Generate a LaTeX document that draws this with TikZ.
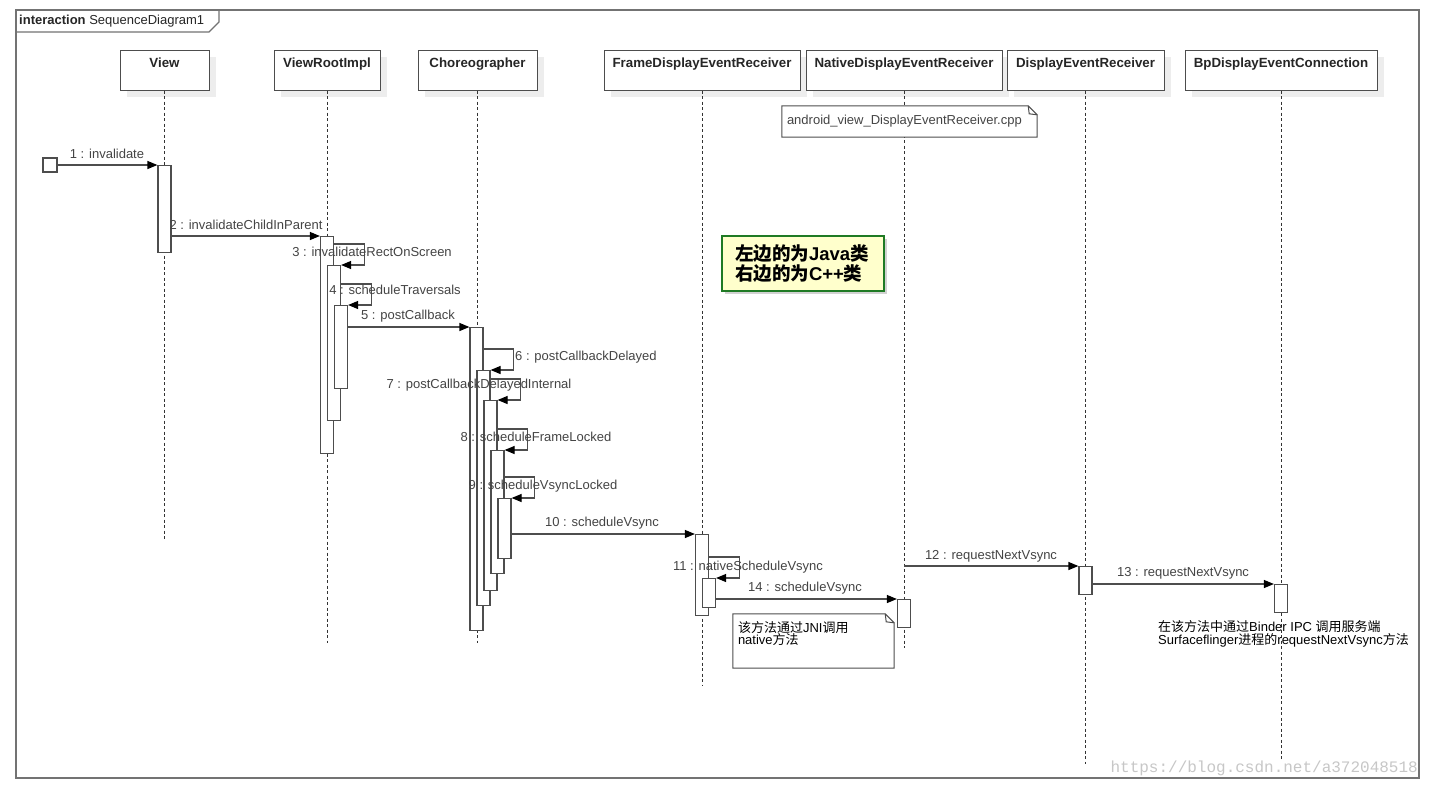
\documentclass[tikz,border=0pt]{standalone}
\usepackage{fontspec}
\setmainfont{Liberation Sans}
\newfontfamily\cjk{Noto Sans CJK SC}
\newfontfamily\wmfont{Liberation Mono}
\usetikzlibrary{arrows.meta,calc,shadows}
\definecolor{lineg}{HTML}{4D4D4D}
\definecolor{txtg}{HTML}{444444}
\definecolor{headtxt}{HTML}{262626}
\definecolor{noteyel}{HTML}{FFFFCC}
\definecolor{notegreen}{HTML}{1F7A24}
\tikzset{
  framel/.style={draw=black!55, line width=1.3pt},
  head/.style={draw=lineg, line width=1pt, fill=white, minimum height=40pt,
    inner xsep=0pt, inner ysep=4pt, text height=13pt, text depth=19pt,
    font=\fontsize{13.3}{15}\selectfont\bfseries, text=headtxt,
    drop shadow={shadow xshift=7pt, shadow yshift=-7pt, fill=black!7, opacity=1}},
  lifeline/.style={draw=black!80, line width=0.9pt, dash pattern=on 3pt off 2.5pt},
  act/.style={draw=lineg, line width=1.2pt, fill=white, minimum width=13pt,
    inner sep=0pt, anchor=north},
  msg/.style={draw=lineg, line width=1.2pt, -{Triangle[length=10pt,width=8pt,color=black]}},
  lbl/.style={font=\fontsize{13}{15}\selectfont, text=txtg, inner sep=0pt},
  blk/.style={font=\fontsize{13}{12.8}\selectfont, text=black, inner sep=0pt},
  notebg/.style={fill=white, draw=none, inner sep=0pt},
  notel/.style={draw=lineg, line width=1pt},
  gbox/.style={draw=notegreen, line width=2pt, fill=noteyel, inner xsep=13pt,
    font=\fontsize{18.5}{19.5}\selectfont\bfseries, text=black,
    drop shadow={shadow xshift=3pt, shadow yshift=-3pt, opacity=0.35}},
}
\newcommand\mkact[5]{\node[act, minimum height={#5-#4}] (#1) at ($(#2.center |- 0,#4)+(#3,0)$) {};}
\newcommand\selfmsg[2]{\draw[msg] ($(#2.north -| #1.east)+(0,-21)$) -- ++(30,0) |- (#2.north east);}
\newcommand\foldnote[1]{%
  \draw[notel] (#1.north west) -- ($(#1.north east)+(-9,0)$) -- ($(#1.north east)+(0,9)$) -- (#1.south east) -- (#1.south west) -- cycle;
  \draw[notel] ($(#1.north east)+(-9,0)$) -- ($(#1.north east)+(-8,8)$) -- ($(#1.north east)+(0,9)$);}
\begin{document}
\begin{tikzpicture}[x=1pt,y=-1pt]
\fill[white] (0,0) rectangle (1431,793);
\useasboundingbox (0,0) rectangle (1431,793);
% frame
\draw[framel] (16,10) rectangle (1419,778);
\draw[framel] (16,10) -- (219,10) -- (219,22) -- (209,32) -- (16,32);
\node[font=\fontsize{13}{15}\selectfont, text=headtxt, anchor=west, inner sep=0pt] (title) at (19,21) {\textbf{interaction} SequenceDiagram1};
% heads
\node[head, minimum width=89pt] (hView) at (164.5,70) {View};
\node[head, minimum width=106pt] (hVRI) at (327,70) {ViewRootImpl};
\node[head, minimum width=119pt] (hCh) at (477.5,70) {Choreographer};
\node[head, minimum width=196pt] (hFr) at (702,70) {FrameDisplayEventReceiver};
\node[head, minimum width=196pt] (hNa) at (904,70) {NativeDisplayEventReceiver};
\node[head, minimum width=157pt] (hDe) at (1085.5,70) {DisplayEventReceiver};
\node[head, minimum width=192pt] (hBp) at (1281,70) {BpDisplayEventConnection};
% lifelines
\coordinate (eView) at (164.5,541);
\coordinate (eVRI) at (327,643);
\coordinate (eCh) at (477.5,643);
\coordinate (eFr) at (702,685);
\coordinate (eNa) at (904,648);
\coordinate (eDe) at (1085.5,764);
\coordinate (eBp) at (1281,759);
\draw[lifeline] (hView) -- (eView);
\draw[lifeline] (hVRI) -- (eVRI);
\draw[lifeline] (hCh) -- (eCh);
\draw[lifeline] (hFr) -- (eFr);
\draw[lifeline] (hNa) -- (eNa);
\draw[lifeline] (hDe) -- (eDe);
\draw[lifeline] (hBp) -- (eBp);
% start
\node[draw=lineg, line width=1.2pt, fill=white, minimum size=14pt, inner sep=0pt] (s0) at (50,165) {};
% activations
\mkact{v1}{hView}{0}{165}{252}
\mkact{r1}{hVRI}{0}{236}{453}
\mkact{r2}{hVRI}{7}{265}{420}
\mkact{r3}{hVRI}{14}{305}{388}
\mkact{c1}{hCh}{-1}{327}{630}
\mkact{c2}{hCh}{6}{370}{605}
\mkact{c3}{hCh}{13}{400}{590}
\mkact{c4}{hCh}{20}{450}{573}
\mkact{c5}{hCh}{27}{498}{558}
\mkact{f1}{hFr}{0}{534}{615}
\mkact{f2}{hFr}{7}{578}{607}
\mkact{n1}{hNa}{0}{599}{627}
\mkact{d1}{hDe}{0}{566}{594}
\mkact{b1}{hBp}{0}{584}{612}
% messages
\draw[msg] (s0.east) -- (v1.north west);
\draw[msg] (v1.east |- r1.north) -- (r1.north west);
\selfmsg{r1}{r2}
\selfmsg{r2}{r3}
\draw[msg] (r3.east |- c1.north) -- (c1.north west);
\selfmsg{c1}{c2}
\selfmsg{c2}{c3}
\selfmsg{c3}{c4}
\selfmsg{c4}{c5}
\draw[msg] (c5.east |- f1.north) -- (f1.north west);
\selfmsg{f1}{f2}
\draw[msg] (hNa.center |- d1.north) -- (d1.north west);
\draw[msg] (d1.east |- b1.north) -- (b1.north west);
\draw[msg] (f2.east |- n1.north) -- (n1.north west);
% notes
\node[notebg, minimum width=255pt, minimum height=31pt] (nAnd) at (909.5,121.5) {};
\foldnote{nAnd}
\node[lbl, anchor=west] (tAnd) at ($(nAnd.west)+(5,0)$) {android\_view\_DisplayEventReceiver.cpp};
\node[notebg, minimum width=161pt, minimum height=54pt] (nJni) at (813.5,641) {};
\foldnote{nJni}
\node[blk, anchor=north west, align=left] (tJni) at ($(nJni.north west)+(5,7)$) {{\cjk 该方法通过}JNI{\cjk 调用}\\native{\cjk 方法}};
\node[blk, anchor=north west, align=left] (tBinder) at (1158,620) {{\cjk 在该方法中通过}Binder IPC {\cjk 调用服务端}\\Surfaceflinger{\cjk 进程的}requestNextVsync{\cjk 方法}};
\node[gbox, minimum width=162pt, minimum height=55pt, text width=136pt, align=left] (gJava) at (803,263.5) {{\cjk 左边的为}Java{\cjk 类}\\{\cjk 右边的为}C++{\cjk 类}};
% labels
\node[lbl] (l1) at (107,154) {1 : invalidate};
\node[lbl] (l2) at (246,225) {2 : invalidateChildInParent};
\node[lbl] (l3) at (372,252) {3 : invalidateRectOnScreen};
\node[lbl] (l4) at (395,290) {4 : scheduleTraversals};
\node[lbl] (l5) at (408,316) {5 : postCallback};
\node[lbl, anchor=west] (l6) at (515,357) {6 : postCallbackDelayed};
\node[lbl] (l7) at (479,385) {7 : postCallbackDelayedInternal};
\node[lbl] (l8) at (536,437) {8 : scheduleFrameLocked};
\node[lbl] (l9) at (543,486) {9 : scheduleVsyncLocked};
\node[lbl] (l10) at (602,523) {10 : scheduleVsync};
\node[lbl] (l11) at (748,567) {11 : nativeScheduleVsync};
\node[lbl] (l12) at (991,556) {12 : requestNextVsync};
\node[lbl] (l13) at (1183,573) {13 : requestNextVsync};
\node[lbl] (l14) at (805,588) {14 : scheduleVsync};
% watermark
\node[font=\wmfont\fontsize{16}{17}\selectfont, text=black!22, anchor=east, inner sep=0pt] (wm) at (1418,768) {https://blog.csdn.net/a372048518};
\end{tikzpicture}
\end{document}
